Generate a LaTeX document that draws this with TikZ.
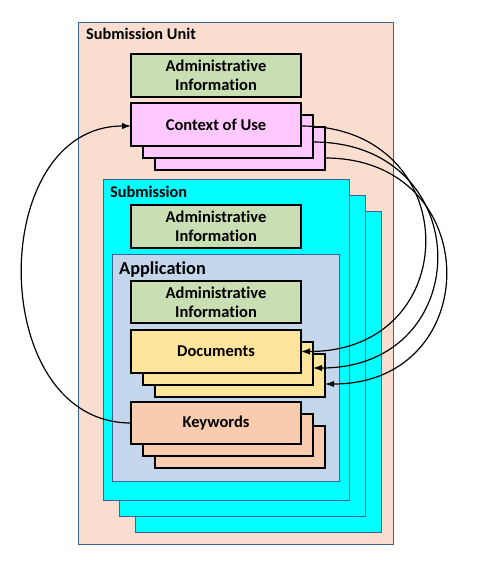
\documentclass[tikz,border=0pt]{standalone}
\usepackage{fontspec}
\setmainfont{Carlito}[Ligatures=NoCommon]
\usetikzlibrary{arrows.meta,calc}
\definecolor{unitfill}{RGB}{249,221,207}
\definecolor{framecol}{RGB}{60,100,150}
\definecolor{adminfill}{RGB}{202,222,180}
\definecolor{coufill}{RGB}{255,200,255}
\definecolor{subfill}{RGB}{0,255,255}
\definecolor{appfill}{RGB}{196,214,236}
\definecolor{docfill}{RGB}{255,228,155}
\definecolor{kwfill}{RGB}{249,203,175}
\tikzset{
  container/.style={draw=framecol, line width=0.8pt, inner sep=0pt, outer sep=0pt},
  smallbox/.style={draw=black, line width=1.1pt, inner sep=0pt, outer sep=0pt,
    minimum width=170pt, minimum height=43pt, align=center,
    font=\bfseries\fontsize{16.5}{19}\selectfont},
  title/.style={anchor=base west, inner sep=0pt, font=\bfseries\fontsize{16.3}{19}\selectfont},
  link/.style={line width=1.2pt, -{Latex[length=9pt,width=6.5pt]}}
}
\begin{document}
\begin{tikzpicture}[x=1pt,y=-1pt]
\path[use as bounding box, fill=white] (0,0) rectangle (479,583);
% Submission Unit
\node[container, fill=unitfill, minimum width=315pt, minimum height=522pt] (unit) at (235.5,283) {};
\node[title] (unitlbl) at (86,40) {Submission Unit};
\node[smallbox, fill=adminfill] (admin1) at (216,75.5) {Administrative\\Information};
\node[smallbox, fill=coufill] (cou3) at (240,148.5) {};
\node[smallbox, fill=coufill] (cou2) at (228,136.5) {};
\node[smallbox, fill=coufill] (cou1) at (216,124.5) {Context of Use};
% Submission
\node[container, fill=subfill, minimum width=246pt, minimum height=321pt] (sub3) at (258,371.5) {};
\node[container, fill=subfill, minimum width=246pt, minimum height=321pt] (sub2) at (242,355.5) {};
\node[container, fill=subfill, minimum width=246pt, minimum height=321pt] (sub1) at (226,339.5) {};
\node[title] (sublbl) at (110,197) {Submission};
\node[smallbox, fill=adminfill] (admin2) at (216,226.5) {Administrative\\Information};
% Application
\node[container, fill=appfill, minimum width=227pt, minimum height=227pt] (app) at (225.5,367.5) {};
\node[title, font=\bfseries\fontsize{18.3}{21}\selectfont] (applbl) at (119,274) {Application};
\node[smallbox, fill=adminfill, minimum height=42pt] (admin3) at (216,302) {Administrative\\Information};
\node[smallbox, fill=docfill] (doc3) at (240,375.5) {};
\node[smallbox, fill=docfill] (doc2) at (228,363.5) {};
\node[smallbox, fill=docfill] (doc1) at (216,351.5) {Documents};
\node[smallbox, fill=kwfill, minimum height=42pt] (kw3) at (240,447) {};
\node[smallbox, fill=kwfill, minimum height=42pt] (kw2) at (228,435) {};
\node[smallbox, fill=kwfill, minimum height=42pt] (kw1) at (216,423) {Keywords};
% connectors
\draw[link] ([yshift=-1.5pt]cou1.east) .. controls +(165,0) and +(165,0) .. (doc1.east);
\draw[link] ([yshift=-5.5pt]cou2.east) .. controls +(165,0) and +(165,0) .. ([yshift=-4.5pt]doc2.east);
\draw[link] ([yshift=-9.5pt]cou3.east) .. controls +(161,0) and +(161,0) .. ([yshift=-8.5pt]doc3.east);
\draw[link] (kw1.west) .. controls +(-145,0) and +(-145,0) .. ([yshift=-1.5pt]cou1.west);
\end{tikzpicture}
\end{document}
